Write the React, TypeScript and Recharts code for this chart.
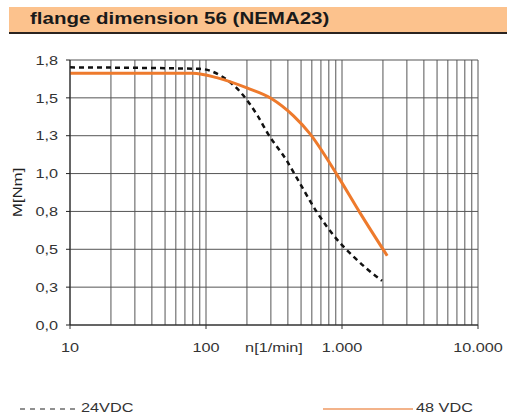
import React from 'react';
import { LineChart, Line, XAxis, YAxis, CartesianGrid, Label } from 'recharts';

const speed24 = [10, 90, 130, 180, 240, 285, 390, 465, 650, 920, 1200, 1530, 1970];
const torque24 = [1.75, 1.74, 1.69, 1.58, 1.42, 1.3, 1.12, 1.0, 0.77, 0.58, 0.47, 0.38, 0.3];

const speed48 = [10, 80, 120, 200, 300, 440, 580, 920, 1360, 2150];
const torque48 = [1.71, 1.71, 1.68, 1.61, 1.54, 1.42, 1.3, 1.02, 0.76, 0.47];

const xTicks = [
  10, 20, 30, 40, 50, 60, 70, 80, 90,
  100, 200, 300, 400, 500, 600, 700, 800, 900,
  1000, 2000, 3000, 4000, 5000, 6000, 7000, 8000, 9000,
  10000,
];
const xLabels: Record<number, string> = { 10: '10', 100: '100', 1000: '1.000', 10000: '10.000' };
const yTicks = [0, 0.2571, 0.5143, 0.7714, 1.0286, 1.2857, 1.5429, 1.8];

const series24 = speed24.map((n, i) => ({ n, m: torque24[i] }));
const series48 = speed48.map((n, i) => ({ n, m: torque48[i] }));

const font = '"Liberation Sans", Arial, sans-serif';
const stretch = 1.25; // the source picture is a bit wider than tall

const chartW = 507;
const chartH = 418;
const margin = { top: 60, right: 29, left: 30, bottom: 63 };
const xAxisH = 30;

const XTick = (props: any) => {
  const { x, y, payload } = props;
  const label = xLabels[payload.value];
  if (!label) return null;
  return (
    <g>
      <line x1={x} x2={x} y1={y - 8} y2={y - 4} stroke="#333" />
      <text
        transform={`translate(${x},${y + 19}) scale(${stretch},1)`}
        textAnchor="middle"
        fontSize={13}
        fill="#333"
        fontFamily={font}
      >
        {label}
      </text>
    </g>
  );
};

const YTick = (props: any) => {
  const { x, y, payload } = props;
  return (
    <text
      transform={`translate(${x - 6},${y}) scale(${stretch},1)`}
      textAnchor="end"
      dy="0.36em"
      fontSize={13}
      fill="#333"
      fontFamily={font}
    >
      {payload.value.toFixed(1).replace('.', ',')}
    </text>
  );
};

const XTitle = (props: any) => {
  const { viewBox } = props;
  const cx = viewBox.x + viewBox.width / 2;
  return (
    <text
      transform={`translate(${cx},${viewBox.y + 27}) scale(${stretch},1)`}
      textAnchor="middle"
      fontSize={13}
      fill="#333"
      fontFamily={font}
    >
      n[1/min]
    </text>
  );
};

// centre of the plot area, vertically
const plotMidY = margin.top + (chartH - margin.top - margin.bottom - xAxisH) / 2;

const YTitle = () => (
  <text
    transform={`translate(22,${plotMidY}) rotate(-90) scale(1.3,1)`}
    textAnchor="middle"
    fontSize={13}
    fill="#222"
    fontFamily={font}
  >
    M[Nm]
  </text>
);

const legendText: React.CSSProperties = {
  position: 'absolute',
  top: 0,
  fontFamily: font,
  fontSize: 13,
  color: '#333',
  transform: `scaleX(${stretch})`,
  transformOrigin: 'left center',
  whiteSpace: 'nowrap',
};

const LegendBox = () => (
  <div style={{ position: 'absolute', left: 0, top: 400, width: 507, height: 18 }}>
    <svg style={{ position: 'absolute', left: 20, top: 4 }} width={60} height={10}>
      <line x1={0} x2={58} y1={5} y2={5} stroke="#222" strokeWidth={1.2} strokeDasharray="5 5" />
    </svg>
    <span style={{ ...legendText, left: 81 }}>24VDC</span>
    <svg style={{ position: 'absolute', left: 323, top: 4 }} width={92} height={10}>
      <line x1={0} x2={90} y1={5} y2={5} stroke="#F3B38A" strokeWidth={2} />
    </svg>
    <span style={{ ...legendText, left: 416 }}>48 VDC</span>
  </div>
);

const App: React.FC = () => {
  return (
    <div style={{ position: 'absolute', left: 0, top: 0, width: chartW, height: chartH, background: '#fff' }}>
      <div
        style={{
          position: 'absolute',
          left: 9,
          top: 7,
          width: 498,
          height: 27,
          background: '#FCC28D',
          borderBottom: '2px solid #2a2320',
          boxSizing: 'border-box',
        }}
      >
        <span
          style={{
            position: 'absolute',
            left: 21,
            top: 3,
            fontFamily: font,
            fontWeight: 'bold',
            fontSize: 16,
            color: '#1a1a1a',
            transform: 'scaleX(1.28)',
            transformOrigin: 'left center',
            whiteSpace: 'nowrap',
          }}
        >
          flange dimension 56 (NEMA23)
        </span>
      </div>
      <div style={{ position: 'absolute', left: 0, top: 0 }}>
        <LineChart width={chartW} height={chartH} margin={margin}>
          <CartesianGrid stroke="#555" strokeWidth={1} />
          <XAxis
            dataKey="n"
            type="number"
            scale="log"
            domain={[10, 10000]}
            ticks={xTicks}
            tick={<XTick />}
            tickLine={false}
            axisLine={{ stroke: '#222' }}
            allowDataOverflow
            height={xAxisH}
            interval={0}
          >
            <Label content={<XTitle />} />
          </XAxis>
          <YAxis
            type="number"
            domain={[0, 1.8]}
            ticks={yTicks}
            width={40}
            tick={<YTick />}
            tickLine={{ stroke: '#222' }}
            tickSize={4}
            axisLine={{ stroke: '#222' }}
            interval={0}
          >
            <Label content={<YTitle />} />
          </YAxis>
          <Line
            data={series24}
            dataKey="m"
            type="monotone"
            stroke="#111"
            strokeWidth={2.5}
            strokeDasharray="5 4"
            dot={false}
            isAnimationActive={false}
            name="24VDC"
          />
          <Line
            data={series48}
            dataKey="m"
            type="monotone"
            stroke="#EE7A2C"
            strokeWidth={3}
            dot={false}
            isAnimationActive={false}
            name="48 VDC"
          />
        </LineChart>
      </div>
      <LegendBox />
    </div>
  );
};

export default App;
